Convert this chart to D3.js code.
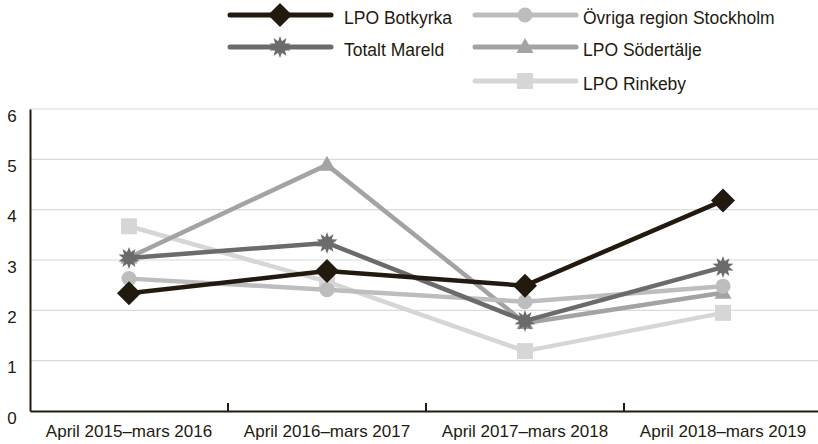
<!DOCTYPE html>
<html>
<head>
<meta charset="utf-8">
<script src="https://cdn.jsdelivr.net/npm/d3@7"></script>
<style>
  body { margin: 0; background: #fff; }
  svg text { font-family: "Liberation Sans", Arial, sans-serif; fill: #231a0f; }
</style>
</head>
<body>
<div id="chart"></div>
<script>
const periods = ['April 2015–mars 2016', 'April 2016–mars 2017', 'April 2017–mars 2018', 'April 2018–mars 2019'];
const yTickValues = [0, 1, 2, 3, 4, 5, 6];

const botkyrka = [2.34, 2.78, 2.49, 4.18];
const mareld = [3.04, 3.34, 1.79, 2.86];
const ovriga = [2.63, 2.41, 2.17, 2.48];
const sodertalje = [3.05, 4.89, 1.75, 2.35];
const rinkeby = [3.67, 2.57, 1.19, 1.95];

const seriesNames = ['LPO Botkyrka', 'Totalt Mareld', 'Övriga region Stockholm', 'LPO Södertälje', 'LPO Rinkeby'];

const config = {
  width: 818,
  height: 444,
  left: 30,
  right: 822,
  top: 109,
  bottom: 411,
  ink: '#231a0f'
};

// drawn back to front
const series = [
  {name: seriesNames[4], values: rinkeby, color: '#d6d6d6', marker: 'square'},
  {name: seriesNames[3], values: sodertalje, color: '#a3a3a3', marker: 'triangle'},
  {name: seriesNames[2], values: ovriga, color: '#bdbdbd', marker: 'circle'},
  {name: seriesNames[1], values: mareld, color: '#6b6b6b', marker: 'star'},
  {name: seriesNames[0], values: botkyrka, color: '#231a0f', marker: 'diamond'}
];

const svg = d3.select('#chart').append('svg')
  .attr('width', config.width)
  .attr('height', config.height);

const scaleX = d3.scaleBand()
  .domain(periods)
  .range([config.left, config.right]);

const scaleY = d3.scaleLinear()
  .domain([0, 6])
  .range([config.bottom, config.top]);

// gridlines
svg.append('g').selectAll('line')
  .data(yTickValues.filter(v => v > 0))
  .enter().append('line')
  .attr('x1', config.left).attr('x2', config.width)
  .attr('y1', d => scaleY(d)).attr('y2', d => scaleY(d))
  .attr('stroke', '#d9d9d9').attr('stroke-width', 1.2);

// y axis
const yAxis = d3.axisLeft(scaleY).tickValues(yTickValues).tickFormat(d3.format('d')).tickSize(0);
const yG = svg.append('g')
  .attr('transform', `translate(${config.left},0)`)
  .call(yAxis);
yG.select('.domain').attr('stroke', config.ink).attr('stroke-width', 2);
yG.selectAll('text')
  .attr('font-size', 17).attr('dy', '0.72em')
  .attr('text-anchor', 'middle').attr('x', -18)
  .style('font-family', '"Liberation Sans", Arial, sans-serif');

// x axis
const xAxis = d3.axisBottom(scaleX).tickSize(0).tickPadding(14);
const xG = svg.append('g')
  .attr('transform', `translate(0,${config.bottom})`)
  .call(xAxis);
xG.select('.domain').attr('stroke', config.ink).attr('stroke-width', 2);
xG.selectAll('text')
  .attr('font-size', 17)
  .style('font-family', '"Liberation Sans Narrow", "Liberation Sans", Arial, sans-serif');
// tick marks between bands
xG.selectAll('.sep')
  .data(periods.slice(1))
  .enter().append('line')
  .attr('class', 'sep')
  .attr('x1', d => scaleX(d)).attr('x2', d => scaleX(d))
  .attr('y1', 0).attr('y2', -8)
  .attr('stroke', config.ink).attr('stroke-width', 2);

const starPath = (r) => {
  const pts = [];
  const n = 10;
  for (let i = 0; i < n * 2; i++) {
    const a = Math.PI * i / n - Math.PI / 2;
    const rr = i % 2 === 0 ? r : r * 0.55;
    pts.push([rr * Math.cos(a), rr * Math.sin(a)]);
  }
  return 'M' + pts.map(p => p.join(',')).join('L') + 'Z';
};

const drawMarker = (g, type, color) => {
  if (type === 'square') {
    g.append('rect').attr('x', -8).attr('y', -8).attr('width', 16).attr('height', 16).attr('fill', color);
  } else if (type === 'circle') {
    g.append('circle').attr('r', 7.5).attr('fill', color);
  } else if (type === 'triangle') {
    g.append('path').attr('d', 'M0,-9L8.5,6L-8.5,6Z').attr('fill', color);
  } else if (type === 'diamond') {
    g.append('path').attr('d', 'M0,-12L12,0L0,12L-12,0Z').attr('fill', color);
  } else if (type === 'star') {
    g.append('path').attr('d', starPath(11)).attr('fill', color);
  }
};

const line = d3.line()
  .x((d, i) => scaleX(periods[i]) + scaleX.bandwidth() / 2)
  .y(d => scaleY(d));

series.forEach(s => {
  const g = svg.append('g');
  g.append('path')
    .attr('d', line(s.values))
    .attr('fill', 'none')
    .attr('stroke', s.color)
    .attr('stroke-width', 4.5)
    .attr('stroke-linejoin', 'round');
  s.values.forEach((v, i) => {
    const m = g.append('g')
      .attr('transform', `translate(${scaleX(periods[i]) + scaleX.bandwidth() / 2},${scaleY(v)})`);
    drawMarker(m, s.marker, s.color);
  });
});

// legend
const legendItems = [
  {s: series[4], x: 230, y: 15},
  {s: series[3], x: 230, y: 47},
  {s: series[2], x: 475, y: 15},
  {s: series[1], x: 475, y: 47},
  {s: series[0], x: 475, y: 81}
];
const legend = svg.append('g');
legendItems.forEach(item => {
  const g = legend.append('g').attr('transform', `translate(${item.x},${item.y})`);
  g.append('line')
    .attr('x1', 0).attr('x2', 101)
    .attr('stroke', item.s.color)
    .attr('stroke-width', 5)
    .attr('stroke-linecap', 'round');
  const m = g.append('g').attr('transform', 'translate(50,0)');
  drawMarker(m, item.s.marker, item.s.color);
  g.append('text')
    .attr('x', item.x === 230 ? 114 : 108)
    .attr('y', 0)
    .attr('dy', '0.5em')
    .attr('font-size', 17.5)
    .text(item.s.name);
});
</script>
</body>
</html>
